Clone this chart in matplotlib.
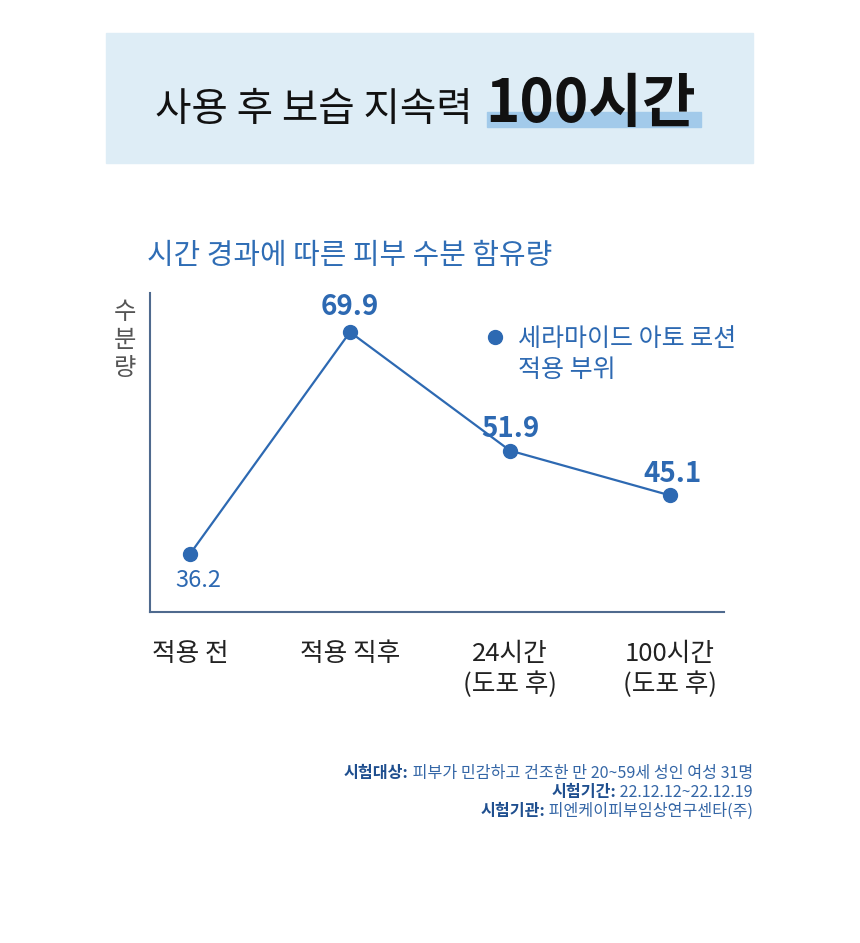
import matplotlib
matplotlib.use('Agg')
import matplotlib.pyplot as plt
from matplotlib.patches import Rectangle
from matplotlib.lines import Line2D

plt.rcParams['font.family'] = ['Noto Sans CJK KR', 'DejaVu Sans']

# data
stages = ['적용 전', '적용 직후', '24시간\n(도포 후)', '100시간\n(도포 후)']
moisture = [36.2, 69.9, 51.9, 45.1]
value_bold = [False, True, True, True]
value_offset = [(6, -24), (0, 12), (0, 10), (2, 9.5)]   # pt, label offset from point

title_plain = '사용 후 보습 지속력'
title_bold = '100시간'
subtitle = '시간 경과에 따른 피부 수분 함유량'
ylabel = '수\n분\n량'
legend_lines = ['세라마이드 아토 로션', '적용 부위']
notes = [('시험대상:', ' 피부가 민감하고 건조한 만 20~59세 성인 여성 31명'),
         ('시험기간:', ' 22.12.12~22.12.19'),
         ('시험기관:', ' 피엔케이피부임상연구센타(주)')]

BLUE = '#2d69b2'
W, H = 860, 943

fig = plt.figure(figsize=(W / 100, H / 100), dpi=100)
fig.patch.set_facecolor('white')

# overlay in pixel coords for decorations
ov = fig.add_axes([0, 0, 1, 1], zorder=0)
ov.set_xlim(0, W)
ov.set_ylim(H, 0)
ov.axis('off')

# header box
ov.add_patch(Rectangle((106, 33), 647, 130, color='#deedf6', zorder=0))
ov.add_patch(Rectangle((487, 112), 214, 15, color='#a2caea', zorder=1))
ov.text(473, 121, title_plain, ha='right', va='baseline', fontsize=28.5,
        color='#111111', zorder=2)
ov.text(485, 122, title_bold, ha='left', va='baseline', fontsize=42,
        fontweight='bold', color='#111111', zorder=2)

# subtitle
ov.text(147, 264, subtitle, ha='left', va='baseline', fontsize=20.8,
        color='#2f6db5')

# y label (stacked)
ov.text(125, 340, ylabel, ha='center', va='center', fontsize=17.5,
        color='#555555', linespacing=1.08)

# footnotes
fig.canvas.draw()
renderer = fig.canvas.get_renderer()
for i, (lab, txt) in enumerate(notes):
    y = 778 + i * 19
    t = ov.text(753, y, txt, ha='right', va='baseline', fontsize=11.6,
                color='#3466a6')
    bb = t.get_window_extent(renderer)
    ov.text(bb.x0, y, lab, ha='right', va='baseline', fontsize=11.6,
            fontweight='bold', color='#1f4f8f',
            transform=matplotlib.transforms.blended_transform_factory(
                matplotlib.transforms.IdentityTransform(), ov.transData))

# chart
ax = fig.add_axes([150 / W, 1 - 612 / H, 574 / W, 319 / H], zorder=1)
ax.patch.set_alpha(0)
x = list(range(len(stages)))
ax.plot(x, moisture, color=BLUE, lw=1.6, marker='o', ms=10,
        markerfacecolor=BLUE, markeredgecolor=BLUE, clip_on=False)
ax.set_xlim(-0.25, 3.3375)
ax.set_ylim(27.39, 75.83)

for xi, v, b, off in zip(x, moisture, value_bold, value_offset):
    ax.annotate(f'{v:.1f}', (xi, v), xytext=off, textcoords='offset points',
                ha='center', va='baseline', color=BLUE,
                fontsize=20 if b else 17,
                fontweight='bold' if b else 'normal')

for s in ['top', 'right']:
    ax.spines[s].set_visible(False)
for s in ['left', 'bottom']:
    ax.spines[s].set_color('#4f6a8e')
    ax.spines[s].set_linewidth(1.5)
ax.set_yticks([])
ax.set_xticks(x)
ax.set_xticklabels(stages, fontsize=18.5, color='#222222', linespacing=1.2)
ax.tick_params(axis='x', length=0, pad=21)

handles = [Line2D([], [], color=BLUE, marker='o', ms=10, linestyle='none'),
           Line2D([], [], linestyle='none')]
leg = fig.legend(handles, legend_lines, loc='upper left',
                 bbox_to_anchor=(483 / W, 1 - 326 / H), frameon=False,
                 fontsize=18, handlelength=1.0, handletextpad=0.38,
                 borderpad=0, borderaxespad=0, labelspacing=0.2)
for t in leg.get_texts():
    t.set_color(BLUE)

fig.savefig('out.png', dpi=100)
